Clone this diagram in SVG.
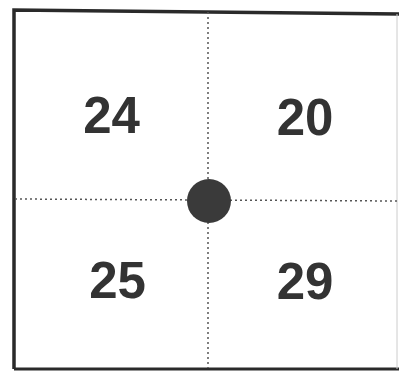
<svg xmlns="http://www.w3.org/2000/svg" width="399" height="371" viewBox="0 0 399 371">
<style>
.num{font-family:"Liberation Sans",Arial,sans-serif;font-weight:bold;font-size:51px;fill:#333;text-anchor:middle}
.dot{stroke:#555;stroke-width:1.5;stroke-dasharray:2 3;fill:none}
</style>
<rect width="399" height="371" fill="#fff"/>
<g id="frame">
<path d="M14,369 L14,10 L399,14" fill="none" stroke="#2a2a2a" stroke-width="3.5"/>
<line x1="14" y1="369" x2="399" y2="369" stroke="#2a2a2a" stroke-width="3"/>
<line x1="397" y1="14" x2="397" y2="369" stroke="#ccc" stroke-width="1"/>
</g>
<g id="connectors">
<line class="dot" x1="208" y1="12" x2="208" y2="368"/>
<line class="dot" x1="15" y1="199" x2="397" y2="201"/>
</g>
<g id="center"><circle cx="209" cy="201" r="22" fill="#3a3a3a"/></g>
<g id="q24"><text class="num" x="111.5" y="133">24</text></g>
<g id="q20"><text class="num" x="305" y="135">20</text></g>
<g id="q25"><text class="num" x="117.5" y="298">25</text></g>
<g id="q29"><text class="num" x="305" y="299">29</text></g>
</svg>
